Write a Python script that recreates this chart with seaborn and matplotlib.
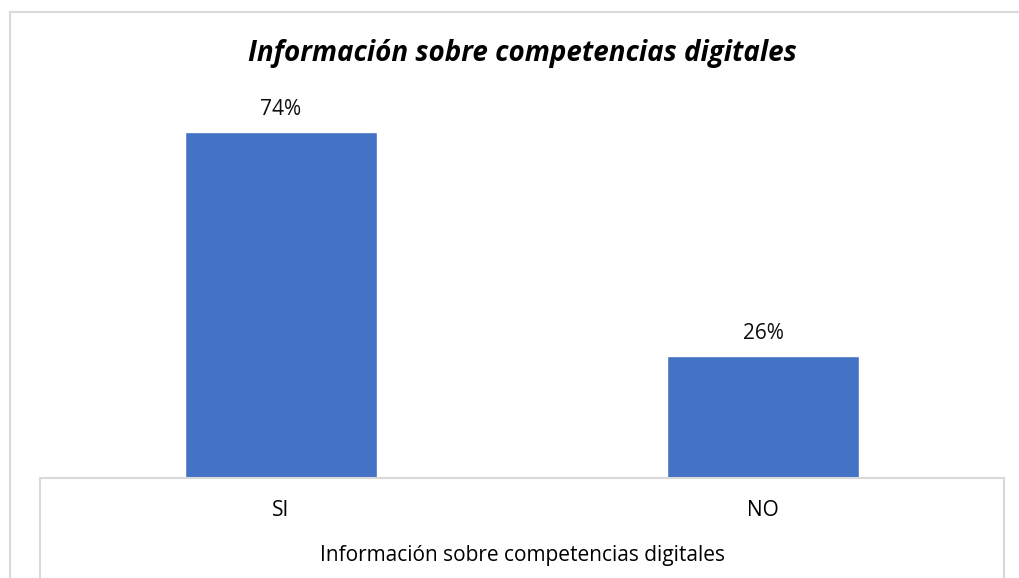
import matplotlib
matplotlib.use('Agg')
import matplotlib.pyplot as plt
import seaborn as sns
from matplotlib.lines import Line2D
from matplotlib.patches import Rectangle

categories = ['SI', 'NO']
values = [74, 26]
bar_labels = ['74%', '26%']
title = 'Información sobre competencias digitales'
xlabel = 'Información sobre competencias digitales'

BAR_COLOR = '#4472C4'
GRID_GRAY = '#D9D9D9'
W, H = 1019, 578

sns.set_theme(style='white')
plt.rcParams['font.family'] = ['Open Sans', 'DejaVu Sans']
plt.rcParams['text.color'] = '#000000'

fig = plt.figure(figsize=(W / 100, H / 100), dpi=100)
ax = fig.add_axes([40 / W, 100 / H, 964 / W, 374 / H])

sns.barplot(x=categories, y=values, color=BAR_COLOR, width=0.4,
            saturation=1, ax=ax)
ax.set_ylim(0, 80)
ax.set_yticks([])
ax.set_ylabel('')
ax.bar_label(ax.containers[0], labels=bar_labels, padding=9,
             fontsize=15, color='#0d0d0d')

for side in ['top', 'left', 'right']:
    ax.spines[side].set_visible(False)
ax.spines['bottom'].set_color(GRID_GRAY)
ax.spines['bottom'].set_linewidth(1.5)
ax.tick_params(axis='x', length=0, pad=16, labelsize=15, labelcolor='#000000')
ax.set_xlabel(xlabel, fontsize=15, labelpad=17, color='#000000')

# table-like box under the axis
for xpix in (40, 1004):
    fig.add_artist(Line2D([xpix / W, xpix / W], [0, 100 / H],
                          transform=fig.transFigure, color=GRID_GRAY, lw=1.5))

# outer chart border
fig.add_artist(Rectangle((10 / W, -0.05), 1.1, 1 - 12 / H + 0.05,
                         transform=fig.transFigure, fill=False,
                         edgecolor=GRID_GRAY, lw=1.5))

fig.text(522 / W, 1 - 53 / H, title, ha='center', va='center',
         fontsize=20, fontweight='bold', fontstyle='italic', color='#000000')

fig.savefig('out.png', dpi=100)
